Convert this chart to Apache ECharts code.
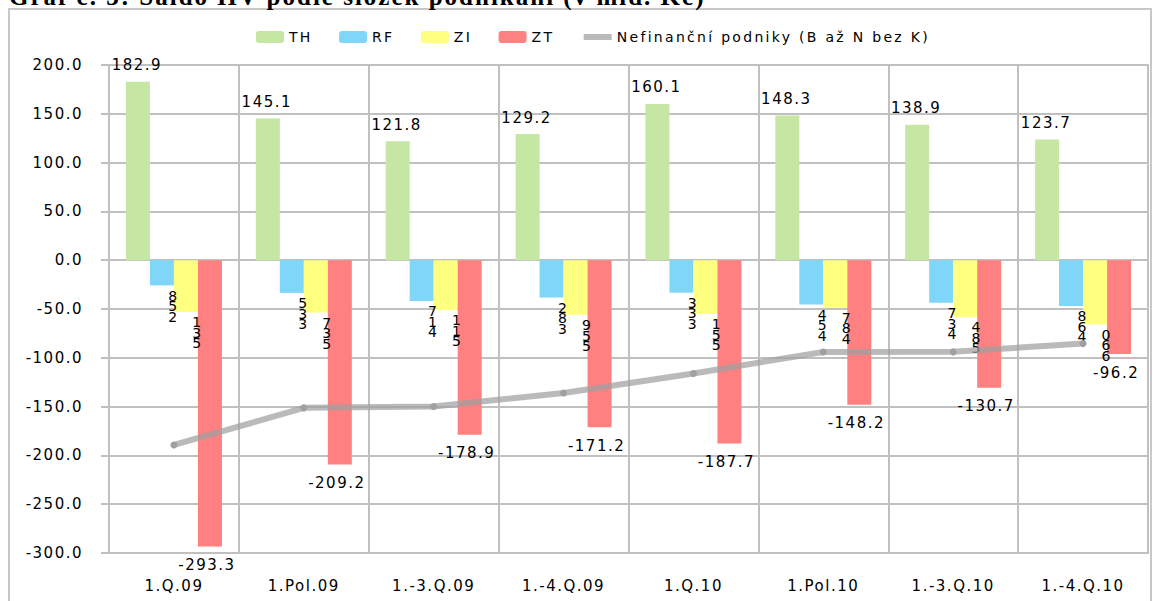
<!DOCTYPE html>
<html>
<head>
<meta charset="utf-8">
<script src="https://cdn.jsdelivr.net/npm/echarts@6/dist/echarts.min.js"></script>
<style>
  html, body { margin: 0; padding: 0; background: #fff; }
  #chart { width: 1155px; height: 601px; }
  /* widely tracked lettering */
  #chart text { letter-spacing: 1.5px; }
  #chart text[style*="14px"] { letter-spacing: 2.3px; }
  #chart text[style*="Serif"] { letter-spacing: 2px; }
</style>
</head>
<body>
<div id="chart"></div>
<script>
// Periods (cumulative quarters)
const categories = ['1.Q.09', '1.Pol.09', '1.-3.Q.09', '1.-4.Q.09', '1.Q.10', '1.Pol.10', '1.-3.Q.10', '1.-4.Q.10'];
// Components, bn CZK
const thValues = [182.9, 145.1, 121.8, 129.2, 160.1, 148.3, 138.9, 123.7];
const rfValues = [-25.8, -33.5, -41.7, -38.2, -33.3, -45.4, -43.7, -46.8];
const ziValues = [-53.1, -53.7, -51.1, -55.9, -55.1, -48.7, -58.4, -66.0];
const ztValues = [-293.3, -209.2, -178.9, -171.2, -187.7, -148.2, -130.7, -96.2];
// Non-financial corporations total
const nefValues = [-189.3, -151.3, -149.9, -136.1, -116.0, -94.0, -93.9, -85.3];
const seriesNames = ['TH', 'RF', 'ZI', 'ZT', 'Nefinanční podniky (B až N bez K)'];
const titleText = 'Graf č. 3: Saldo HV podle složek podnikání (v mld. Kč)';

const FONT = 'DejaVu Sans';
const gridColor = '#c0c0c0';
const lineColor = 'rgba(160,160,160,0.72)';

// Narrow labels wrap one digit per line, read from the bottom up
function wrappedDigits(p) {
  const s = Math.abs(p.value).toFixed(1).replace('.', '');
  return s.split('').reverse().join('\n');
}

const wrappedLabel = {
  show: true,
  position: 'bottom',
  distance: 5,
  offset: [12, 0],
  formatter: wrappedDigits,
  fontFamily: FONT,
  fontSize: 14,
  lineHeight: 10.5,
  color: '#000'
};

const chart = echarts.init(document.getElementById('chart'), null, { renderer: 'svg' });
chart.setOption({
  animation: false,
  backgroundColor: '#fff',
  title: {
    text: titleText,
    left: 4,
    top: -21,
    textStyle: { fontFamily: 'Liberation Serif', fontWeight: 'bold', fontSize: 25, color: '#000' }
  },
  graphic: [{
    type: 'rect',
    shape: { x: 9, y: 9, width: 1142, height: 610 },
    style: { fill: 'none', stroke: '#c8c8c8', lineWidth: 2 },
    silent: true,
    z: -1
  }],
  legend: {
    top: 25,
    left: 251,
    itemWidth: 28,
    itemHeight: 12,
    itemGap: 31,
    textStyle: { fontFamily: FONT, fontSize: 14, color: '#000' },
    data: [
      seriesNames[0], seriesNames[1], seriesNames[2], seriesNames[3],
      { name: seriesNames[4], itemStyle: { opacity: 0 }, lineStyle: { width: 6, color: lineColor } }
    ]
  },
  grid: {
    left: 109, right: 7, top: 65, bottom: 48,
    show: true, borderColor: gridColor, borderWidth: 2
  },
  xAxis: {
    type: 'category',
    data: categories,
    axisLine: { lineStyle: { color: gridColor, width: 2 } },
    axisTick: { show: false },
    splitLine: { show: true, lineStyle: { color: gridColor, width: 2 } },
    axisLabel: { fontFamily: FONT, fontSize: 15, color: '#000', margin: 25 }
  },
  yAxis: {
    type: 'value',
    min: -300, max: 200, interval: 50,
    axisLine: { show: true, lineStyle: { color: gridColor, width: 2 } },
    axisTick: { show: true, length: 8, lineStyle: { color: gridColor, width: 2 } },
    splitLine: { show: true, lineStyle: { color: gridColor, width: 2 } },
    axisLabel: {
      fontFamily: FONT, fontSize: 15, color: '#000', margin: 26,
      formatter: v => v.toFixed(1)
    }
  },
  series: [
    {
      name: seriesNames[0], type: 'bar', data: thValues, barWidth: 24, barGap: '0%',
      itemStyle: { color: '#c6e6a4' },
      label: { show: true, position: 'top', distance: 9, offset: [-1, 0], fontFamily: FONT, fontSize: 15, color: '#000',
        formatter: p => p.value.toFixed(1) }
    },
    {
      name: seriesNames[1], type: 'bar', data: rfValues, barWidth: 24, barGap: '0%',
      itemStyle: { color: '#7fd6f8' },
      label: wrappedLabel
    },
    {
      name: seriesNames[2], type: 'bar', data: ziValues, barWidth: 24, barGap: '0%',
      itemStyle: { color: '#ffff80' },
      label: wrappedLabel
    },
    {
      name: seriesNames[3], type: 'bar', data: ztValues, barWidth: 24, barGap: '0%',
      itemStyle: { color: '#ff8080' },
      label: { show: true, position: 'bottom', distance: 11, offset: [-3, 0], fontFamily: FONT, fontSize: 15, color: '#000',
        formatter: p => p.value.toFixed(1) }
    },
    {
      name: seriesNames[4], type: 'line', data: nefValues, z: 5,
      lineStyle: { color: lineColor, width: 6 },
      itemStyle: { color: '#a0a0a0' },
      symbol: 'circle', symbolSize: 7, showSymbol: true
    }
  ]
});
</script>
</body>
</html>
